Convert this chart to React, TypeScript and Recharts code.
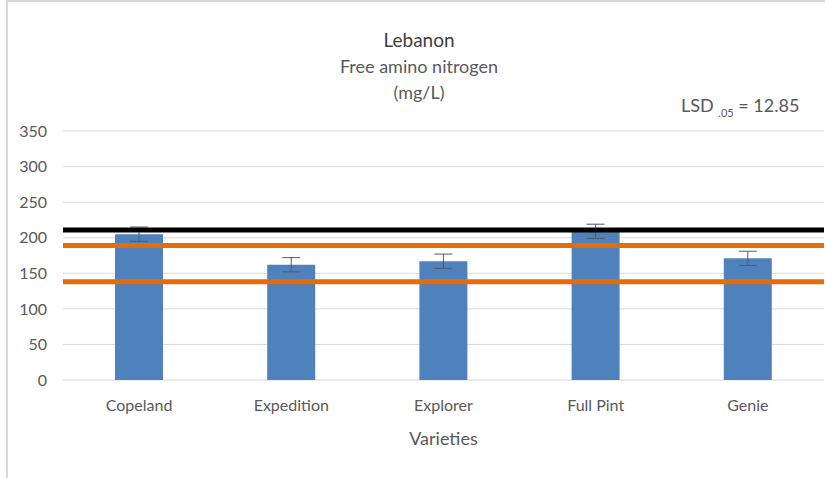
import {
  Bar,
  CartesianGrid,
  ComposedChart,
  ErrorBar,
  ReferenceLine,
  XAxis,
  YAxis,
} from "recharts";

const varieties = ["Copeland", "Expedition", "Explorer", "Full Pint", "Genie"];
const fan = [205, 162, 167, 209, 171];
const fanError = [10, 10, 10, 10, 10];
const yTicks = [0, 50, 100, 150, 200, 250, 300, 350];
const blackLine = 211;
const orangeLines = [189, 138];

const data = varieties.map((name, i) => ({ name, fan: fan[i], err: fanError[i] }));

const FONT = "Lato, 'Open Sans', sans-serif";
const GRAY = "#595959";

export default function App() {
  return (
    <div
      style={{
        position: "absolute",
        left: 0,
        top: 0,
        width: 825,
        height: 478,
        overflow: "hidden",
        background: "#fff",
        fontFamily: FONT,
      }}
    >
      <div
        style={{
          position: "absolute",
          left: 6,
          top: 0,
          width: 840,
          height: 500,
          border: "2px solid #d9d9d9",
        }}
      />
      <div style={{ position: "absolute", left: 0, width: 838, top: 26, textAlign: "center", color: "#404040" }}>
        <div style={{ fontSize: 19, lineHeight: "27px" }}>Lebanon</div>
        <div style={{ fontSize: 18, lineHeight: "27px", color: GRAY }}>Free amino nitrogen</div>
        <div style={{ fontSize: 18, lineHeight: "25px", color: GRAY }}>(mg/L)</div>
      </div>
      <div style={{ position: "absolute", left: 681, top: 94, fontSize: 18, color: GRAY, whiteSpace: "nowrap" }}>
        LSD <sub style={{ fontSize: 11 }}>.05</sub> = 12.85
      </div>
      <div style={{ position: "absolute", left: 0, top: 0 }}>
        <ComposedChart
          width={825}
          height={478}
          data={data}
          margin={{ top: 131, right: 1, left: 0, bottom: 0 }}
        >
          <CartesianGrid vertical={false} stroke="#d9d9d9" />
          <XAxis
            dataKey="name"
            height={98}
            axisLine={false}
            tickLine={false}
            tickSize={0}
            tickMargin={20}
            tick={{ fill: GRAY, fontSize: 16, fontFamily: FONT }}
            label={{ value: "Varieties", position: "insideBottom", offset: 33, fill: GRAY, fontSize: 18, fontFamily: FONT }}
          />
          <YAxis
            width={63}
            domain={[0, 350]}
            ticks={yTicks}
            axisLine={false}
            tickLine={false}
            tickSize={0}
            tickMargin={16}
            tick={{ fill: GRAY, fontSize: 16, fontFamily: FONT }}
          />
          <Bar dataKey="fan" fill="#4f81bd" barSize={48} isAnimationActive={false}>
            <ErrorBar dataKey="err" width={9} stroke={GRAY} strokeWidth={1} direction="y" />
          </Bar>
          <ReferenceLine y={blackLine} stroke="#000" strokeWidth={5} />
          {orangeLines.map((v) => (
            <ReferenceLine key={v} y={v} stroke="#e46c0a" strokeWidth={5} />
          ))}
        </ComposedChart>
      </div>
    </div>
  );
}
